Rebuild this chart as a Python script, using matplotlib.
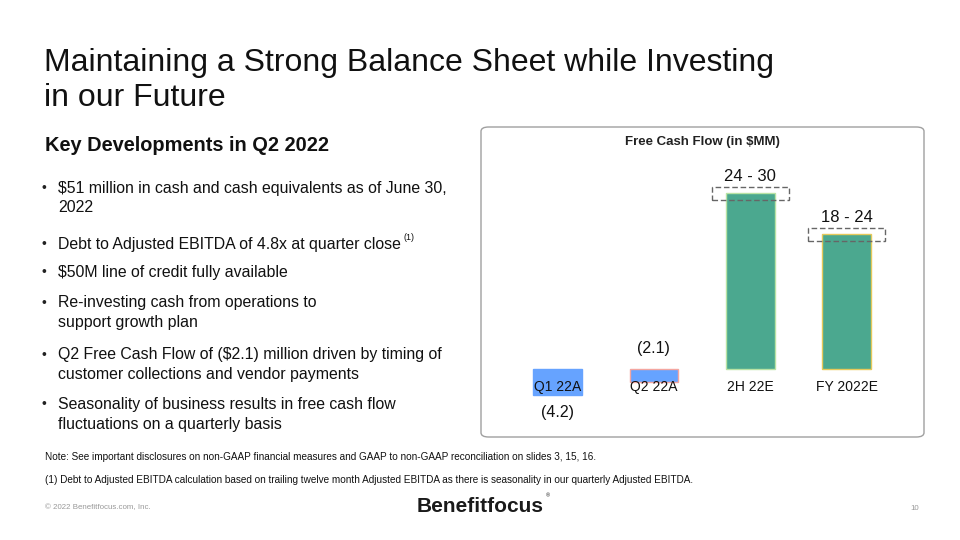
import matplotlib
matplotlib.use("Agg")
import matplotlib.pyplot as plt
from matplotlib.patches import Rectangle, FancyBboxPatch

plt.rcParams['font.family'] = ['Liberation Sans', 'DejaVu Sans']

# chart data
categories = ['Q1 22A', 'Q2 22A', '2H 22E', 'FY 2022E']
fcf = [-4.2, -2.1, 28.4, 21.8]
value_labels = ['(4.2)', '(2.1)', '24 - 30', '18 - 24']
is_range = [False, False, True, True]
bar_colors = ['#66a3ff', '#66a3ff', '#4ba88f', '#4ba88f']
edge_colors = ['#66a3ff', '#f4a6a0', '#b9e3a4', '#e6c95a']

title_lines = ['Maintaining a Strong Balance Sheet while Investing', 'in our Future']
bullets = [
    ['$51 million in cash and cash equivalents as of June 30,', '2022'],
    ['Debt to Adjusted EBITDA of 4.8x at quarter close'],
    ['$50M line of credit fully available'],
    ['Re-investing cash from operations to', 'support growth plan'],
    ['Q2 Free Cash Flow of ($2.1) million driven by timing of', 'customer collections and vendor payments'],
    ['Seasonality of business results in free cash flow', 'fluctuations on a quarterly basis'],
]
bullet_y = [188, 244, 272, 303, 355, 404]

W, H = 960, 540
fig = plt.figure(figsize=(9.6, 5.4), dpi=100)


def fx(px):
    return px / W


def fy(py):
    return 1 - py / H


# slide text
for i, line in enumerate(title_lines):
    fig.text(fx(44), fy(63 + i * 35), line, fontsize=23, va='center', color='#111111')
fig.text(fx(45), fy(145), 'Key Developments in Q2 2022', fontsize=14.4, fontweight='bold',
         va='center', color='#111111')

for lines, y0 in zip(bullets, bullet_y):
    fig.text(fx(42), fy(y0), '•', fontsize=10, va='center', color='#222222')
    for j, line in enumerate(lines):
        fig.text(fx(58), fy(y0 + j * 20), line, fontsize=11.4, va='center', color='#111111')
fig.text(fx(403), fy(238), '(1)', fontsize=6.5, va='center', color='#111111')

fig.text(fx(45), fy(457), 'Note: See important disclosures on non-GAAP financial measures and GAAP to '
         'non-GAAP reconciliation on slides 3, 15, 16.', fontsize=7.2, va='center', color='#111111')
fig.text(fx(45), fy(480), '(1) Debt to Adjusted EBITDA calculation based on trailing twelve month '
         'Adjusted EBITDA as there is seasonality in our quarterly Adjusted EBITDA.',
         fontsize=7.2, va='center', color='#111111')
fig.text(fx(45), fy(508), '© 2022 Benefitfocus.com, Inc.', fontsize=5.7, va='center', color='#999999')
fig.text(fx(910), fy(508), '10', fontsize=5.7, va='center', color='#999999')
fig.text(fx(480), fy(506), 'Benefitfocus', fontsize=15, fontweight='bold', ha='center',
         va='center', color='#1a1a1a')
fig.text(fx(548), fy(496), '®', fontsize=4, ha='center', va='center', color='#1a1a1a')

# chart panel
panel = FancyBboxPatch((fx(481), fy(437)), fx(924 - 481), (437 - 127) / H,
                       boxstyle='round,pad=0,rounding_size=0.008', transform=fig.transFigure,
                       facecolor='white', edgecolor='#a0a0a0', linewidth=1, zorder=-1)
fig.patches.append(panel)
fig.text(fx(702), fy(142), 'Free Cash Flow (in $MM)', fontsize=9.5, fontweight='bold',
         ha='center', va='center', color='#222222')

ax = fig.add_axes([fx(509.3), fy(430), fx(385.6), 260 / H])
ax.patch.set_alpha(0)
x = list(range(len(categories)))
ax.bar(x, fcf, width=0.505, color=bar_colors, edgecolor=edge_colors, linewidth=1)
ax.set_xlim(-0.5, 3.5)
ax.set_ylim(-9.85, 32.15)
ax.axis('off')

for i, (cat, v, lab, rng) in enumerate(zip(categories, fcf, value_labels, is_range)):
    ax.annotate(cat, (i, 0), xytext=(0, -18), textcoords='offset pixels', ha='center',
                va='center', fontsize=10, color='#111111')
    if rng:
        ax.add_patch(Rectangle((i - 0.4, v - 1.05), 0.8, 2.1, fill=False, edgecolor='#666666',
                               linestyle=(0, (4, 2)), linewidth=1))
        ax.annotate(lab, (i, v + 1.05), xytext=(0, 10), textcoords='offset pixels',
                    ha='center', va='center', fontsize=12, color='#111111')
    elif i == 0:
        ax.annotate(lab, (i, v), xytext=(0, -17), textcoords='offset pixels',
                    ha='center', va='center', fontsize=11.5, color='#111111')
    else:
        ax.annotate(lab, (i, 0), xytext=(0, 21), textcoords='offset pixels',
                    ha='center', va='center', fontsize=11.5, color='#111111')

fig.savefig('out.png', dpi=100)
